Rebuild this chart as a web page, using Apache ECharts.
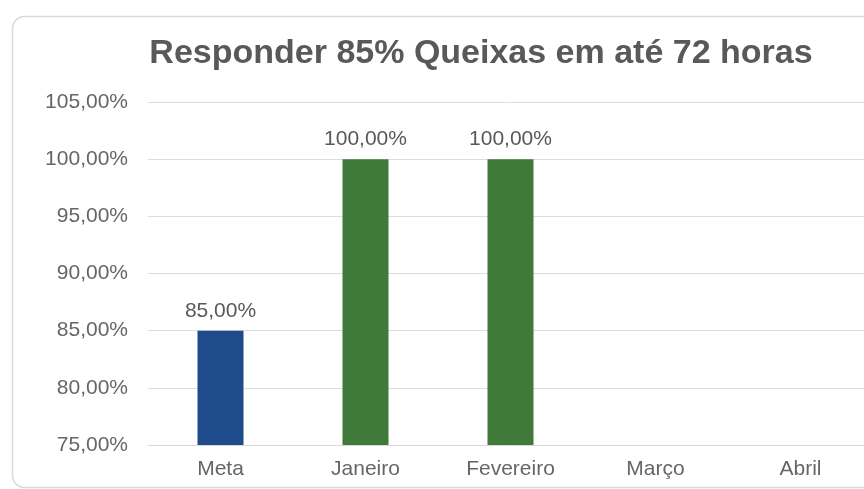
<!DOCTYPE html>
<html><head><meta charset="utf-8">
<script src="https://cdn.jsdelivr.net/npm/echarts@6/dist/echarts.min.js"></script>
<style>html,body{margin:0;padding:0;background:#fff}#c{width:864px;height:489px}</style>
</head><body><div id="c"></div>
<script>
const categories = ['Meta', 'Janeiro', 'Fevereiro', 'Março', 'Abril'];
const values = [0.85, 1.00, 1.00, null, null];
const yTicks = [0.75, 0.80, 0.85, 0.90, 0.95, 1.00, 1.05];
const title = 'Responder 85% Queixas em até 72 horas';

const fmt = v => (v * 100).toFixed(2).replace('.', ',') + '%';
const chart = echarts.init(document.getElementById('c'));
chart.setOption({
  backgroundColor: '#ffffff',
  animation: false,
  graphic: [{
    type: 'rect', left: 10, top: 14, shape: { width: 870, height: 471, r: 12 },
    style: { fill: 'none', stroke: '#d9d9d9', lineWidth: 1.5 }, z: -1
  }],
  title: {
    text: title, left: 476, textAlign: 'center', top: 32,
    textStyle: { fontFamily: 'Liberation Sans', fontSize: 34, fontWeight: 'bold', color: '#595959' }
  },
  grid: { left: 148, width: 725, top: 102, bottom: 44, outerBoundsMode: 'none', containLabel: false },
  xAxis: {
    type: 'category', data: categories,
    axisLine: { show: true, lineStyle: { color: '#d9d9d9' } },
    axisTick: { show: false },
    axisLabel: { fontFamily: 'Liberation Sans', fontSize: 21, color: '#666666', margin: 14 }
  },
  yAxis: {
    type: 'value', min: yTicks[0], max: yTicks[yTicks.length - 1], interval: 0.05,
    axisLine: { show: false }, axisTick: { show: false },
    splitLine: { lineStyle: { color: '#dcdcdc', width: 1 } },
    axisLabel: { fontFamily: 'Liberation Sans', fontSize: 21, color: '#666666', margin: 20, formatter: fmt }
  },
  series: [{
    type: 'bar', data: values, barWidth: 46,
    itemStyle: { color: p => p.dataIndex === 0 ? '#1f4b8a' : '#3f7a3b' },
    label: {
      show: true, position: 'top', distance: 9, formatter: p => fmt(p.value),
      fontFamily: 'Liberation Sans', fontSize: 21, color: '#595959'
    }
  }]
});
</script></body></html>
